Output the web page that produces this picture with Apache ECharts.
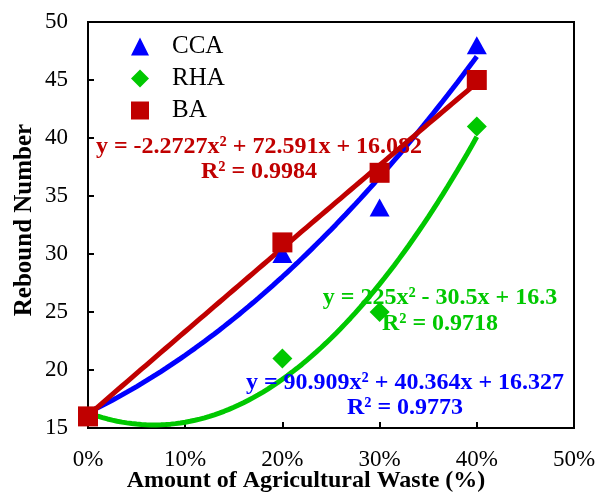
<!DOCTYPE html>
<html><head><meta charset="utf-8">
<script src="https://cdn.jsdelivr.net/npm/echarts@6/dist/echarts.min.js"></script>
<style>html,body{margin:0;padding:0;background:#fff}#c{width:602px;height:494px}</style>
</head><body><div id="c"></div>
<script>
// Data (x as fraction of agricultural waste)
const xValues = [0, 0.2, 0.3, 0.4];
const ccaValues = [16, 30, 34, 48];
const rhaValues = [16, 21, 25, 41];
const baValues = [16, 31, 37, 45];
const yTicks = [15, 20, 25, 30, 35, 40, 45, 50];
const xTicks = [0, 0.1, 0.2, 0.3, 0.4, 0.5];
// Polynomial trendline coefficients [a, b, c] shown on chart: y = a x^2 + b x + c
const ccaTrend = [90.909, 40.364, 16.327];
const rhaTrend = [225, -30.5, 16.3];
const baTrend = [-2.2727, 72.591, 16.082];
const ccaEq = ['y = 90.909x² + 40.364x + 16.327', 'R² = 0.9773'];
const rhaEq = ['y = 225x² - 30.5x + 16.3', 'R² = 0.9718'];
const baEq = ['y = -2.2727x² + 72.591x + 16.082', 'R² = 0.9984'];

const BLUE = '#0000FF', GREEN = '#00C800', RED = '#C00000';
const FONT = '"Liberation Serif", "Times New Roman", serif';

function pairs(xs, ys) { return xs.map((x, i) => [x, ys[i]]); }
function trend(coef) {
  const pts = [];
  for (let i = 0; i <= 80; i++) {
    const x = xValues[0] + (xValues[xValues.length - 1] - xValues[0]) * i / 80;
    pts.push([x, coef[0] * x * x + coef[1] * x + coef[2]]);
  }
  return pts;
}
function trendSeries(coef, color) {
  return { type: 'line', data: trend(coef), showSymbol: false, symbol: 'none', smooth: false,
    lineStyle: { color: color, width: 5 }, silent: true, z: 2, legendHoverLink: false };
}
function eqText(lines, color, cx, y1, y2) {
  return [
    { type: 'text', x: cx, y: y1, style: { text: lines[0], fill: color, font: 'bold 24px ' + FONT, align: 'center', verticalAlign: 'middle' }, z: 5 },
    { type: 'text', x: cx, y: y2, style: { text: lines[1], fill: color, font: 'bold 24px ' + FONT, align: 'center', verticalAlign: 'middle' }, z: 5 }
  ];
}

const chart = echarts.init(document.getElementById('c'), null, { renderer: 'canvas' });
chart.setOption({
  animation: false,
  backgroundColor: '#fff',
  grid: { left: 88, top: 22, right: 28, bottom: 66, show: true, borderColor: '#000', borderWidth: 2, backgroundColor: 'transparent' },
  xAxis: {
    type: 'value', min: xTicks[0], max: xTicks[xTicks.length - 1], interval: 0.1,
    axisLine: { show: true, lineStyle: { color: '#000', width: 2 } },
    axisTick: { show: true, inside: true, length: 6, lineStyle: { color: '#000', width: 2 } },
    axisLabel: { margin: 20, color: '#000', fontFamily: FONT, fontSize: 23, formatter: v => Math.round(v * 100) + '%' },
    splitLine: { show: false }
  },
  yAxis: {
    type: 'value', min: yTicks[0], max: yTicks[yTicks.length - 1], interval: 5,
    axisLine: { show: true, lineStyle: { color: '#000', width: 2 } },
    axisTick: { show: true, inside: true, length: 6, lineStyle: { color: '#000', width: 2 } },
    axisLabel: { margin: 20, color: '#000', fontFamily: FONT, fontSize: 23 },
    splitLine: { show: false }
  },
  legend: {
    orient: 'vertical', left: 126, top: 29, itemWidth: 18, itemHeight: 18, itemGap: 7,
    data: [{ name: 'CCA', icon: 'triangle' }, { name: 'RHA', icon: 'diamond' }, { name: 'BA', icon: 'rect' }],
    textStyle: { fontFamily: FONT, fontSize: 25, color: '#000', padding: [0, 0, 0, 18] },
    selectedMode: false
  },
  series: [
    trendSeries(ccaTrend, BLUE),
    trendSeries(rhaTrend, GREEN),
    trendSeries(baTrend, RED),
    { name: 'CCA', type: 'scatter', data: pairs(xValues, ccaValues), symbol: 'triangle', symbolSize: [20, 18], itemStyle: { color: BLUE, opacity: 1 }, z: 3 },
    { name: 'RHA', type: 'scatter', data: pairs(xValues, rhaValues), symbol: 'diamond', symbolSize: [20, 20], itemStyle: { color: GREEN, opacity: 1 }, z: 3 },
    { name: 'BA', type: 'scatter', data: pairs(xValues, baValues), symbol: 'rect', symbolSize: [20, 20], itemStyle: { color: RED, opacity: 1 }, z: 4 }
  ],
  graphic: [
    { type: 'text', x: 306, y: 481, style: { text: 'Amount of Agricultural Waste (%)', fill: '#000', font: 'bold 24px ' + FONT, align: 'center', verticalAlign: 'middle' } },
    { type: 'text', x: 25, y: 220, rotation: Math.PI / 2, style: { text: 'Rebound Number', fill: '#000', font: 'bold 25px ' + FONT, align: 'center', verticalAlign: 'middle' } },
    ...eqText(baEq, RED, 259, 147, 172),
    ...eqText(rhaEq, GREEN, 440, 298, 324),
    ...eqText(ccaEq, BLUE, 405, 383, 408)
  ]
});
</script></body></html>
